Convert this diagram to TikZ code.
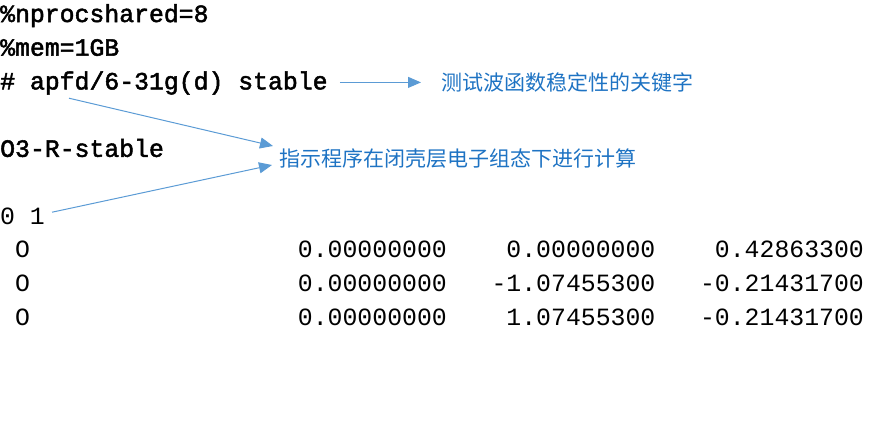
\documentclass[tikz,border=0pt]{standalone}
\usepackage{fontspec}
\setmonofont{Liberation Mono}
\newfontfamily\codefont{Liberation Mono}[FakeBold=2]
\newfontfamily\cjkfont{Noto Sans CJK SC}
\usetikzlibrary{positioning, arrows.meta, calc}
\definecolor{arrowblue}{RGB}{91, 155, 213}
\definecolor{noteblue}{RGB}{30, 115, 195}

\begin{document}
\begin{tikzpicture}[
    x=1pt, y=-1pt, % pixel-like units, y grows downwards
    codeline/.style={ % Style for lines of the input file, takes the face as argument
        inner sep=0pt,
        anchor=base west,
        text height=14pt,
        text depth=0pt,
        font=#1\fontsize{24.8}{30}\selectfont
    },
    % Default face of the header lines
    codeline/.default=\codefont,
    % Right-aligned numbers of the geometry block
    coordcell/.style={codeline=\ttfamily, anchor=base east},
    % Style for the blue remarks
    note/.style={
        inner sep=0pt,
        anchor=base west,
        text height=16pt,
        text depth=0pt,
        text=noteblue,
        font=\cjkfont\fontsize{21}{25}\selectfont
    },
    % Arrow style
    pointer/.style={
        -{Triangle[length=13pt, width=11pt]},
        line width=1pt,
        draw=arrowblue
    }
]
\useasboundingbox (0,0) rectangle (891,421);

% Header of the input file
\node[codeline] (nproc) at (0, 22.0) {\%nprocshared=8};
\node[codeline] (mem) at (0, 55.7) {\%mem=1GB};
\node[codeline] (route) at (0, 89.4) {\# apfd/6-31g(d) stable};
\node[codeline] (title) at (0, 156.8) {O3-R-stable};
\node[codeline=\ttfamily] (charge) at (0, 224.2) {0 1};

% Geometry block
\foreach \yb/\xa/\ya/\za [count=\i] in {
    257.9/0.00000000/0.00000000/0.42863300,
    291.6/0.00000000/-1.07455300/-0.21431700,
    325.3/0.00000000/1.07455300/-0.21431700} {
    \node[codeline=\ttfamily] (atom\i) at (14.9, \yb) {O};
    \node[coordcell] (xc\i) at (447, \yb) {\xa};
    \node[coordcell] (yc\i) at (655.5, \yb) {\ya};
    \node[coordcell] (zc\i) at (864, \yb) {\za};
}

% Remarks
\node[note] (keyword) at (441, 90.4) {测试波函数稳定性的关键字};
\node[note] (closed) at (279, 166) {指示程序在闭壳层电子组态下进行计算};

% Draw arrows
\draw[pointer] ([xshift=12pt]route.east) -- ([xshift=-20pt]keyword.west);
\draw[pointer] ([shift={(69pt,-8.6pt)}]route.south west) -- ([shift={(-6pt,12pt)}]closed.west);
\draw[pointer] ([shift={(7pt,5pt)}]charge.east) -- ([shift={(-7pt,-7pt)}]closed.west);

\end{tikzpicture}
\end{document}
